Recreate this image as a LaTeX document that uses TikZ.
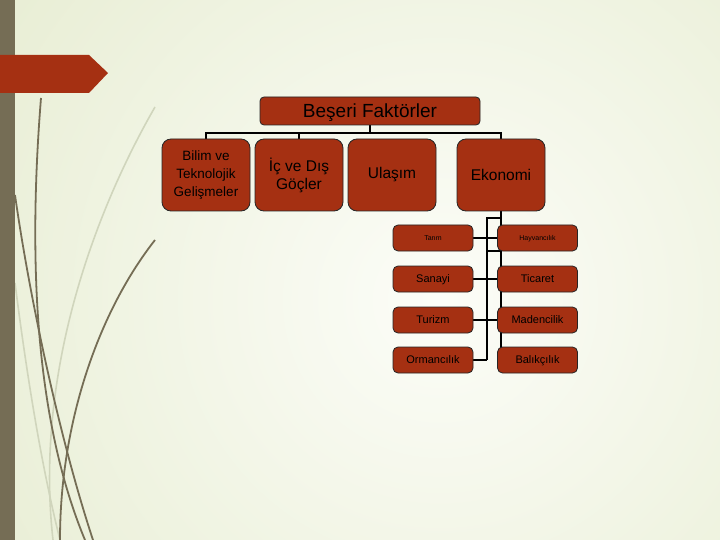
\documentclass[tikz,border=0pt]{standalone}
\usepackage{fontspec}
\setmainfont{Liberation Sans}
\definecolor{boxred}{RGB}{165,48,18}
\definecolor{barcol}{RGB}{117,109,85}
\definecolor{grasslight}{RGB}{208,213,188}
\definecolor{bgout}{RGB}{221,229,192}
\definecolor{bgin}{RGB}{252,253,248}
\pgfdeclarelayer{bg}
\pgfdeclarelayer{lines}
\pgfsetlayers{bg,lines,main}
\begin{document}
\begin{tikzpicture}[x=1pt,y=-1pt,
  box/.style={draw=black!85, line width=0.8pt, fill=boxred, rounded corners=9pt,
    minimum width=88pt, minimum height=72pt, inner sep=1pt, align=center,
    font=\fontsize{15.5}{18}\selectfont, text=black},
  topbox/.style={draw=black!85, line width=0.8pt, fill=boxred, rounded corners=4pt,
    minimum width=220pt, minimum height=28pt, inner sep=1pt,
    text height=13.5pt, text depth=1pt,
    font=\fontsize{19}{22}\selectfont, text=black},
  smallbox/.style={draw=black!85, line width=0.8pt, fill=boxred, rounded corners=5pt,
    minimum width=80pt, minimum height=26pt, inner sep=1pt,
    text height=8pt, text depth=1pt,
    font=\fontsize{11}{13}\selectfont, text=black},
  tiny/.style={font=\fontsize{7}{8}\selectfont, text height=5pt, text depth=0.5pt},
  conn/.style={draw=black, line width=2.8pt},
  grassdark/.style={draw=barcol, line width=1.8pt},
  grasslite/.style={draw=grasslight, line width=1.6pt}]
\useasboundingbox (0,0) rectangle (720,540);
% background
\begin{pgfonlayer}{bg}
\fill[bgout] (0,0) rectangle (720,540);
\begin{scope}
\clip (0,0) rectangle (720,540);
\shade[inner color=bgin, outer color=bgout] (440,300) circle (840pt);
\end{scope}
% grass
\draw[grasslite] (155,107) .. controls (90,220) and (35,380) .. (53,540);
\draw[grasslite] (15,283) .. controls (30,400) and (45,480) .. (60,540);
\draw[grassdark] (41,98) .. controls (28,260) and (35,420) .. (85,540);
\draw[grassdark] (15,195) .. controls (30,300) and (60,440) .. (93,540);
\draw[grassdark] (155,240) .. controls (100,310) and (60,420) .. (60,540);
% left bar and banner
\fill[barcol] (0,0) rectangle (15,540);
\fill[boxred] (0,55) -- (89,55) -- (108,73) -- (89,93) -- (0,93) -- cycle;
\end{pgfonlayer}
% nodes
\node[topbox] (top) at (370,111) {Beşeri Faktörler};
\node[box, font=\fontsize{13.5}{18}\selectfont] (b1) at (206,175) {Bilim ve\\Teknolojik\\Gelişmeler};
\node[box] (b2) at (299,175) {İç ve Dış\\Göçler};
\node[box] (b3) at (392,175) {Ulaşım};
\node[box] (b4) at (501,175) {Ekonomi};
\node[smallbox, tiny] (l1) at (433,238) {Tarım};
\node[smallbox] (l2) at (433,279) {Sanayi};
\node[smallbox] (l3) at (433,320) {Turizm};
\node[smallbox] (l4) at (433,360) {Ormancılık};
\node[smallbox, tiny] (r1) at (537.5,238) {Hayvancılık};
\node[smallbox] (r2) at (537.5,279) {Ticaret};
\node[smallbox] (r3) at (537.5,320) {Madencilik};
\node[smallbox] (r4) at (537.5,360) {Balıkçılık};
\coordinate (bus) at (370,133);
\coordinate (ls) at (487,218);
\coordinate (st) at (487,251);
% connectors
\begin{pgfonlayer}{lines}
\draw[conn] (top.south) -- (top.south |- bus);
\draw[conn] (b1.north) -- (b1.north |- bus) -- (b4.north |- bus) -- (b4.north);
\draw[conn] (b2.north) -- (b2.north |- bus);
\draw[conn] (b4.south) -- (b4.south |- r4.center);
\draw[conn] (b4.south |- ls) -- (ls) -- (ls |- l4.center);
\draw[conn] (l1.east) -- (r1.west);
\draw[conn] (l2.east) -- (r2.west);
\draw[conn] (l3.east) -- (r3.west);
\draw[conn] (l4.east) -- (ls |- l4.center);
\draw[conn] (st) -- (b4.south |- st);
\end{pgfonlayer}
\end{tikzpicture}
\end{document}
